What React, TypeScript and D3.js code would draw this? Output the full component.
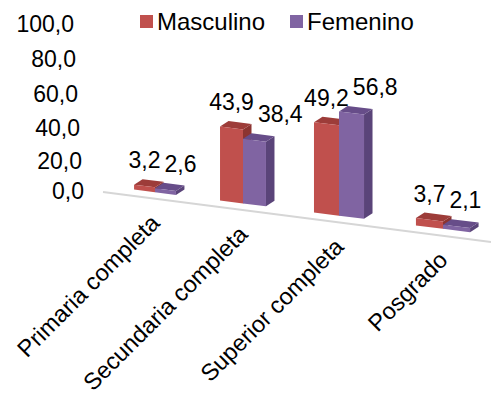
import React from 'react';
import * as d3 from 'd3';

// Nivel educativo alcanzado, por sexo (%)
const categories = ['Primaria completa', 'Secundaria completa', 'Superior completa', 'Posgrado'];
const masculino = [3.2, 43.9, 49.2, 3.7];
const femenino = [2.6, 38.4, 56.8, 2.1];
const seriesNames = ['Masculino', 'Femenino'];
const yTicks = [0, 20, 40, 60, 80, 100];

const W = 491;
const H = 397;
const FONT = '"Liberation Sans", Arial, sans-serif';

// face colours per series: front, top, side
const palette = [
  { front: '#c0504d', top: '#9d3c39', side: '#8c3431' },
  { front: '#8064a2', top: '#674d89', side: '#5a4479' },
];

const fmt = (v: number) => v.toFixed(1).replace('.', ',');

// approximate advance width of a numeric label (Arial metrics)
const labelWidth = (s: string, fs: number) =>
  s.split('').reduce((acc, ch) => acc + (ch === ',' ? 0.278 : 0.556), 0) * fs;

// position of each category along the (receding) floor
const depth = d3.scalePoint<string>().domain(categories).range([0, 3]);
// perspective: spacing, width and height grow toward the viewer (right)
const centreX = (t: number) => 155 + 84 * t + 4 * t * t;
const persp = d3.scaleLinear().domain([0, 3]).range([0.8725, 1.1275]);
// bar base line and front edge of the floor
const baseY = d3.scaleLinear().domain([145, 430]).range([191, 227.2]);
const floorY = d3.scaleLinear().domain([103, 491]).range([192, 242]);
// value axis drawn on the receding back wall
const yAxis = d3.scalePow().exponent(1.06).domain([0, 100]).range([199, 32]);
const yAxisX = d3.scaleLinear().domain([0, 100]).range([84, 74]);

const unitPx = 1.76;
const barW = 24;
const dX = 8.5;
const dY = -5.5;

const pts = (p: [number, number][]) => p.map((q) => q.join(',')).join(' ');

export default function App() {
  const series = [masculino, femenino];

  const groups = categories.map((cat, i) => {
    const t = depth(cat) as number;
    const s = persp(t);
    const c = centreX(t);
    const w = barW * s;
    const bars = series.map((vals, k) => {
      const v = vals[i];
      const x0 = k === 0 ? c - w : c;
      const x1 = x0 + w;
      const h = v * unitPx * s;
      const b0 = baseY(x0);
      const b1 = baseY(x1);
      const t0 = b0 - h;
      const t1 = b1 - h;
      return {
        k,
        v,
        x0,
        x1,
        front: [[x0, b0], [x1, b1], [x1, t1], [x0, t0]] as [number, number][],
        top: [[x0, t0], [x1, t1], [x1 + dX, t1 + dY], [x0 + dX, t0 + dY]] as [number, number][],
        side: [[x1, b1], [x1 + dX, b1 + dY], [x1 + dX, t1 + dY], [x1, t1]] as [number, number][],
        topY: Math.min(t0, t1) + dY,
      };
    });
    // value labels: second label nudged right so they never overlap
    const fs = 23;
    const l0 = fmt(bars[0].v);
    const l1 = fmt(bars[1].v);
    const cx0 = (bars[0].x0 + bars[0].x1) / 2;
    const w0 = labelWidth(l0, fs);
    const w1 = labelWidth(l1, fs);
    const cx1 = Math.max((bars[1].x0 + bars[1].x1) / 2, cx0 + w0 / 2 + 4 + w1 / 2);
    const labels = [
      { text: l0, x: cx0, y: bars[0].topY - 11 },
      { text: l1, x: cx1, y: bars[1].topY - 11 },
    ];
    return { cat, c, bars, labels };
  });

  return (
    <svg
      width={W}
      height={H}
      viewBox={`0 0 ${W} ${H}`}
      style={{ position: 'absolute', left: 0, top: 0, background: '#fff' }}
      fontFamily={FONT}
    >
      {/* value axis labels */}
      {yTicks.map((v) => (
        <text key={v} x={yAxisX(v)} y={yAxis(v)} textAnchor="end" fontSize={23} fill="#000">
          {fmt(v)}
        </text>
      ))}

      {/* floor front edge */}
      <line
        x1={103}
        y1={floorY(103)}
        x2={491}
        y2={floorY(491)}
        stroke="#d6d6d6"
        strokeWidth={2}
      />

      {/* bars */}
      {groups.map((g) => (
        <g key={g.cat}>
          {g.bars.map((b) => (
            <g key={b.k}>
              <polygon points={pts(b.side)} fill={palette[b.k].side} />
              <polygon points={pts(b.top)} fill={palette[b.k].top} />
              <polygon points={pts(b.front)} fill={palette[b.k].front} />
            </g>
          ))}
        </g>
      ))}

      {/* value labels */}
      {groups.map((g) =>
        g.labels.map((l, k) => (
          <text key={g.cat + k} x={l.x} y={l.y} textAnchor="middle" fontSize={23} fill="#000">
            {l.text}
          </text>
        ))
      )}

      {/* category labels */}
      {groups.map((g) => {
        const ax = g.c + 6;
        const ay = floorY(ax) + 25;
        return (
          <text
            key={g.cat}
            transform={`translate(${ax},${ay}) rotate(-45)`}
            textAnchor="end"
            fontSize={23.5}
            fill="#000"
          >
            {g.cat}
          </text>
        );
      })}

      {/* legend */}
      {seriesNames.map((name, k) => {
        const lx = k === 0 ? 140 : 290;
        return (
          <g key={name} transform={`translate(${lx},15)`}>
            <rect width={13} height={13} fill={palette[k].front} />
            <text x={17} y={15} fontSize={24} fill="#000">
              {name}
            </text>
          </g>
        );
      })}
    </svg>
  );
}
